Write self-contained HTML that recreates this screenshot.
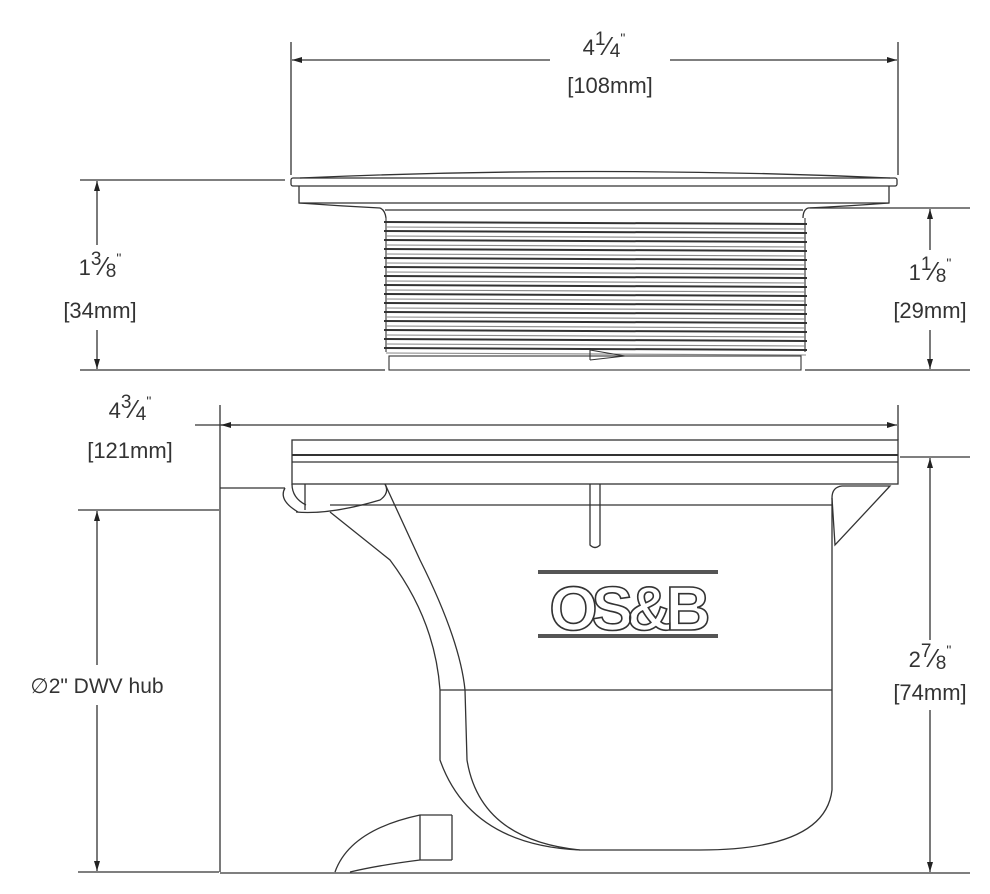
<!DOCTYPE html>
<html><head><meta charset="utf-8"><style>
html,body{margin:0;padding:0;background:#fff;}
svg{display:block}
text{font-family:"Liberation Sans",sans-serif;fill:#333}
</style></head><body>
<svg width="990" height="894" viewBox="0 0 990 894" xmlns="http://www.w3.org/2000/svg">
<defs>
<marker id="a" viewBox="0 0 10 6" refX="10" refY="3" markerWidth="10" markerHeight="6" orient="auto-start-reverse" markerUnits="userSpaceOnUse"><path d="M0,0 L10,3 L0,6z" fill="#222"/></marker>
</defs>
<g stroke="#333" stroke-width="1.3" fill="none">
<line x1="291" y1="42" x2="291" y2="175"/>
<line x1="898" y1="42" x2="898" y2="175"/>
<line x1="292" y1="60" x2="550" y2="60" marker-start="url(#a)"/>
<line x1="670" y1="60" x2="897" y2="60" marker-end="url(#a)"/>
<line x1="80" y1="180" x2="285" y2="180"/>
<line x1="80" y1="370" x2="385" y2="370"/>
<line x1="97" y1="181" x2="97" y2="245" marker-start="url(#a)"/>
<line x1="97" y1="330" x2="97" y2="369" marker-end="url(#a)"/>
<line x1="810" y1="208" x2="970" y2="208"/>
<line x1="805" y1="370" x2="970" y2="370"/>
<line x1="930" y1="209" x2="930" y2="250" marker-start="url(#a)"/>
<line x1="930" y1="330" x2="930" y2="369" marker-end="url(#a)"/>
<path d="M300,178 Q595,165 890,178"/>
<rect x="291" y="178" width="606" height="8" rx="2"/>
<path d="M299,186 L299,203 Q340,206 380,208 M889,186 L889,203 Q850,206 808,208"/>
<line x1="299" y1="203" x2="889" y2="203"/>
<path d="M380,208 Q385,210 386,218 M808,208 Q803,210 803,218"/>
<line x1="385" y1="210" x2="803" y2="210"/>
</g>
<g stroke="#333" stroke-width="1.1" fill="none">
<path d="M386,218 L386,352 M805,218 L805,352"/>
<g id="th">
<line x1="384" y1="222" x2="807" y2="224" stroke-width="2"/>
<line x1="386" y1="227" x2="806" y2="229" stroke="#888"/>
</g>
<use href="#th" y="9"/><use href="#th" y="18"/><use href="#th" y="27"/><use href="#th" y="36"/><use href="#th" y="45"/><use href="#th" y="54"/><use href="#th" y="63"/><use href="#th" y="72"/><use href="#th" y="81"/><use href="#th" y="90"/><use href="#th" y="99"/><use href="#th" y="108"/><use href="#th" y="117"/><use href="#th" y="126"/>
<path d="M590,350 L625,356 L590,360 M590,348 L590,360"/>
<rect x="389" y="356" width="412" height="14"/>
</g>
<g stroke="#333" stroke-width="1.3" fill="none">
<line x1="220" y1="405" x2="220" y2="872"/>
<line x1="898" y1="405" x2="898" y2="440"/>
<line x1="195" y1="425" x2="897" y2="425" marker-end="url(#a)"/>
<line x1="221" y1="425" x2="240" y2="425" marker-start="url(#a)"/>
<line x1="78" y1="510" x2="219" y2="510"/>
<line x1="78" y1="872" x2="219" y2="872"/>
<line x1="97" y1="511" x2="97" y2="665" marker-start="url(#a)"/>
<line x1="97" y1="705" x2="97" y2="871" marker-end="url(#a)"/>
<line x1="900" y1="457" x2="970" y2="457"/>
<line x1="220" y1="873" x2="970" y2="873"/>
<line x1="930" y1="458" x2="930" y2="640" marker-start="url(#a)"/>
<line x1="930" y1="710" x2="930" y2="872" marker-end="url(#a)"/>
<rect x="292" y="440" width="606" height="44"/>
<line x1="292" y1="455" x2="898" y2="455" stroke-width="2"/>
<line x1="292" y1="462" x2="898" y2="462"/>
<line x1="220" y1="488" x2="285" y2="488"/>
<path d="M285,488 Q278,500 298,512 M292,484 Q292,498 306,505"/>
<line x1="305" y1="484" x2="305" y2="510"/>
<line x1="330" y1="505" x2="832" y2="505"/>
<path d="M296,512 Q330,515 380,500 Q390,493 385,484"/>
<path d="M590,484 L590,545 Q595,550 600,545 L600,484"/>
<path d="M832,498 Q832,487 842,486 L890,486 L835,545 Z"/>
<path d="M832,498 L832,790 Q825,850 700,850 L580,850 Q470,845 440,760 L440,690 Q435,620 390,560 Q340,520 330,512"/>
<path d="M385,484 L420,560 Q460,640 465,690 L467,760 Q480,840 580,850"/>
<line x1="440" y1="690" x2="832" y2="690"/>
<path d="M452,815 L420,815 Q350,830 335,872"/>
<line x1="420" y1="815" x2="420" y2="860"/>
<line x1="452" y1="815" x2="452" y2="860"/>
<path d="M452,860 L420,860 Q380,865 350,872"/>
</g>
<g fill="#555">
<rect x="538" y="570" width="180" height="4"/>
<rect x="538" y="634" width="180" height="4"/>
</g>
<text x="627" y="630" font-size="62" font-weight="bold" text-anchor="middle" style="fill:#fff;stroke:#333;stroke-width:1.6" letter-spacing="-6">OS&amp;B</text>
<g font-size="22" text-anchor="middle">
<text x="604" y="55">4<tspan font-size="19" dy="-10">1</tspan><tspan font-size="26" dy="10">⁄</tspan><tspan font-size="19" dy="2">4</tspan><tspan dy="-14" font-size="14">"</tspan></text>
<text x="610" y="93">[108mm]</text>
<text x="100" y="275">1<tspan font-size="19" dy="-10">3</tspan><tspan font-size="26" dy="10">⁄</tspan><tspan font-size="19" dy="2">8</tspan><tspan dy="-14" font-size="14">"</tspan></text>
<text x="100" y="318">[34mm]</text>
<text x="930" y="280">1<tspan font-size="19" dy="-10">1</tspan><tspan font-size="26" dy="10">⁄</tspan><tspan font-size="19" dy="2">8</tspan><tspan dy="-14" font-size="14">"</tspan></text>
<text x="930" y="318">[29mm]</text>
<text x="130" y="418">4<tspan font-size="19" dy="-10">3</tspan><tspan font-size="26" dy="10">⁄</tspan><tspan font-size="19" dy="2">4</tspan><tspan dy="-14" font-size="14">"</tspan></text>
<text x="130" y="458">[121mm]</text>
<text x="930" y="667">2<tspan font-size="19" dy="-10">7</tspan><tspan font-size="26" dy="10">⁄</tspan><tspan font-size="19" dy="2">8</tspan><tspan dy="-14" font-size="14">"</tspan></text>
<text x="930" y="700">[74mm]</text>
<text x="97" y="693" font-size="21">∅2" DWV hub</text>
</g>
</svg>
</body></html>
